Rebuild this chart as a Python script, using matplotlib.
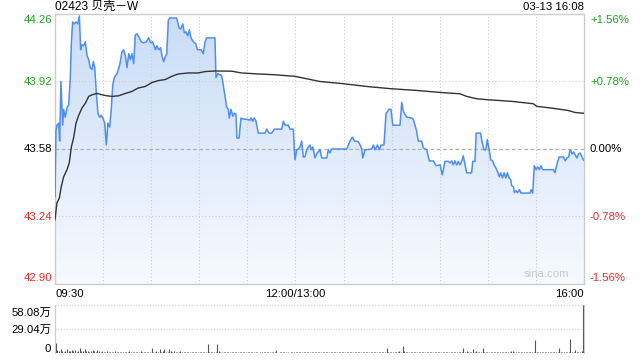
import numpy as np
import matplotlib
matplotlib.use("Agg")
import matplotlib.pyplot as plt
from matplotlib.colors import LinearSegmentedColormap

plt.rcParams['font.family'] = ['Liberation Sans', 'Noto Sans CJK SC', 'DejaVu Sans']

# ---------------- data ----------------
title = "02423 贝壳－W"
stamp = "03-13 16:08"
prev_close = 43.58
y_ticks = [44.26, 43.92, 43.58, 43.24, 42.90]
pct_ticks = ["+1.56%", "+0.78%", "0.00%", "-0.78%", "-1.56%"]
x_tick_minutes = [0, 150, 330]
x_tick_labels = ["09:30", "12:00/13:00", "16:00"]
vol_ticks = [58.08, 29.04, 0]
vol_tick_labels = ["58.08万", "29.04万", "0"]

price_min = [0, 0.6, 1.2, 2.3, 2.9, 3.7, 4.8, 5.4, 6.4, 7.5, 8.5, 9.5, 10.2, 11.0, 12.0, 13.1,
             14.2, 15.2, 16.0, 16.8, 17.9, 18.9, 20.0, 21.0, 22.0, 23.1, 23.9, 24.8, 25.8, 26.8,
             27.9, 28.9, 29.9, 31.0, 32.0, 33.0, 34.1, 35.1, 36.0, 37.0, 38.7, 40.4, 41.8, 42.8,
             43.9, 44.9, 46.0, 47.0, 48.0, 49.1, 50.1, 51.2, 52.6, 53.8, 55.3, 57.0, 58.4, 59.7,
             60.9, 62.6, 63.6, 64.7, 65.9, 66.7, 67.8, 68.6, 69.7, 70.7, 71.7, 75.9, 77.4, 78.4,
             79.7, 80.7, 81.7, 82.8, 83.8, 84.8, 86.3, 87.8, 88.8, 91.1, 92.5, 93.6, 94.6, 99.8,
             100.4, 101.5, 102.5, 104.0, 105.0, 106.1, 107.1, 108.1, 108.7, 109.8, 110.9, 111.9,
             112.9, 113.5, 114.8, 116.0, 117.5, 119.6, 121.6, 122.3, 123.3, 124.3, 125.4, 126.8,
             131.0, 132.1, 133.5, 135.2, 136.8, 141.4, 142.4, 143.5, 145.5, 146.6, 148.7, 149.3,
             149.7, 150.8, 151.8, 152.8, 153.9, 154.9, 155.9, 157.0, 158.0, 159.1, 159.7, 160.8,
             162.2, 163.2, 165.3, 166.4, 169.5, 170.5, 171.5, 172.6, 182.0, 183.0, 184.0, 185.5,
             186.8, 189.2, 190.3, 191.3, 192.0, 193.4, 197.6, 198.6, 199.7, 201.1, 202.3, 203.4,
             205.2, 206.5, 207.5, 208.4, 209.6, 210.7, 215.2, 216.3, 217.3, 218.3, 219.4, 222.5,
             223.5, 225.6, 226.6, 228.7, 229.8, 231.9, 233.5, 236.0, 237.7, 240.2, 241.6, 243.3,
             245.3, 246.4, 247.5, 248.5, 249.5, 250.6, 251.6, 252.6, 253.7, 254.7, 255.8, 256.8,
             259.9, 260.6, 262.0, 262.7, 265.5, 266.2, 267.6, 268.7, 269.7, 270.8, 271.8, 272.9,
             273.9, 275.0, 276.0, 277.2, 278.1, 279.1, 280.2, 281.2, 282.2, 283.3, 284.3, 284.9,
             286.0, 286.6, 287.6, 288.6, 289.7, 290.7, 296.3, 297.0, 298.0, 299.0, 300.1, 301.1,
             302.2, 303.2, 304.2, 310.9, 311.9, 313.0, 314.5, 317.2, 318.3, 319.3, 320.4, 321.4,
             322.5, 323.5, 324.5, 325.6, 326.6, 327.6, 328.7, 329.8]
price_val = [43.34, 43.67, 43.70, 43.71, 43.62, 43.92, 43.70, 43.78, 43.74, 43.79, 43.80, 43.93,
             44.115, 44.22, 44.21, 44.22, 44.21, 44.25, 44.08, 44.105, 44.10, 44.12, 44.05, 44.03,
             43.99, 43.98, 44.02, 43.99, 43.86, 43.76, 43.74, 43.75, 43.736, 43.71, 43.60, 43.71,
             43.69, 43.78, 43.90, 43.94, 43.96, 44.005, 44.07, 44.08, 44.05, 43.99, 44.06, 44.03,
             44.06, 44.01, 44.155, 44.16, 44.14, 44.12, 44.115, 44.12, 44.14, 44.115, 44.12, 44.08,
             44.10, 44.08, 44.09, 44.05, 44.02, 44.04, 44.06, 44.23, 44.24, 44.24, 44.19, 44.185,
             44.21, 44.165, 44.17, 44.15, 44.18, 44.14, 44.12, 44.11, 44.08, 44.08, 44.06, 44.12,
             44.14, 44.14, 43.94, 43.96, 43.955, 43.95, 43.90, 43.845, 43.79, 43.78, 43.736, 43.78,
             43.745, 43.76, 43.755, 43.635, 43.635, 43.736, 43.73, 43.73, 43.725, 43.736, 43.72,
             43.736, 43.72, 43.66, 43.66, 43.68, 43.66, 43.66, 43.68, 43.68, 43.72, 43.70, 43.70,
             43.68, 43.68, 43.576, 43.526, 43.576, 43.58, 43.59, 43.62, 43.54, 43.54, 43.576, 43.59,
             43.60, 43.576, 43.59, 43.535, 43.555, 43.576, 43.535, 43.535, 43.576, 43.56, 43.58,
             43.58, 43.60, 43.62, 43.64, 43.62, 43.617, 43.60, 43.58, 43.535, 43.576, 43.58, 43.60,
             43.576, 43.60, 43.576, 43.60, 43.60, 43.76, 43.77, 43.78, 43.78, 43.70, 43.70, 43.815,
             43.77, 43.756, 43.74, 43.736, 43.73, 43.67, 43.62, 43.62, 43.585, 43.576, 43.52, 43.52,
             43.496, 43.50, 43.45, 43.518, 43.518, 43.51, 43.52, 43.50, 43.52, 43.50, 43.518, 43.50,
             43.518, 43.546, 43.50, 43.46, 43.46, 43.518, 43.518, 43.66, 43.66, 43.625, 43.576,
             43.576, 43.627, 43.576, 43.526, 43.52, 43.50, 43.485, 43.467, 43.44, 43.46, 43.434,
             43.46, 43.434, 43.46, 43.434, 43.425, 43.395, 43.39, 43.36, 43.37, 43.36, 43.375,
             43.358, 43.358, 43.375, 43.358, 43.496, 43.476, 43.49, 43.476, 43.496, 43.476, 43.476,
             43.46, 43.50, 43.54, 43.54, 43.52, 43.535, 43.54, 43.576, 43.555, 43.565, 43.55,
             43.535, 43.555, 43.56, 43.54, 43.523]

avg_min = [0, 1.2, 2.7, 3.9, 5.4, 7.5, 8.9, 10.2, 11.7, 13.1, 14.8, 16.8, 18.9, 21.0, 23.1, 26.2,
           29.3, 32.4, 35.6, 39.7, 43.9, 48.0, 51.8, 56.3, 60.5, 64.7, 68.8, 72.8, 76.9, 83.2,
           89.4, 93.6, 99.8, 110.2, 116.4, 126.8, 137.2, 149.7, 165.3, 179.8, 194.4, 209.0,
           225.6, 240.2, 252.6, 256.8, 263.1, 270.3, 284.9, 298.4, 300.5, 309.8, 320.2, 324.4,
           329.6]
avg_val = [43.224, 43.308, 43.333, 43.39, 43.44, 43.476, 43.51, 43.59, 43.64, 43.71, 43.75,
           43.786, 43.81, 43.845, 43.853, 43.86, 43.853, 43.848, 43.845, 43.848, 43.86, 43.87,
           43.887, 43.895, 43.915, 43.925, 43.93, 43.946, 43.958, 43.963, 43.963, 43.97, 43.973,
           43.972, 43.963, 43.958, 43.954, 43.946, 43.92, 43.909, 43.895, 43.884, 43.875, 43.865,
           43.858, 43.845, 43.833, 43.828, 43.82, 43.808, 43.795, 43.786, 43.774, 43.764, 43.76]

# volume per minute, in 万
volume = [12.0, 3.5, 2.0, 4.5, 3.0, 1.5, 2.5, 5.0, 2.0, 3.0,
          4.0, 2.5, 3.5, 1.8, 2.2, 5.5, 3.0, 2.0, 4.8, 2.5,
          3.0, 1.5, 2.8, 4.2, 2.0, 1.6, 3.5, 2.2, 1.4, 2.0,
          1.2, 1.8, 2.5, 1.0, 1.5, 0.8, 1.2, 2.0, 1.0, 0.9,
          1.5, 1.1, 0.8, 1.3, 1.8, 1.0, 2.2, 1.2, 0.9, 1.4,
          1.6, 1.0, 1.3, 2.0, 0.8, 1.2, 1.0, 1.8, 1.1, 0.9,
          5.5, 1.2, 1.0, 2.5, 1.8, 4.5, 1.2, 2.0, 4.8, 1.5,
          1.8, 4.8, 2.2, 1.5, 2.8, 1.0, 1.6, 1.2, 2.0, 0.9,
          1.4, 1.0, 0.8, 1.6, 1.1, 0.7, 1.3, 0.9, 1.2, 0.8,
          1.0, 1.5, 0.7, 1.1, 0.8, 11.0, 0.9, 1.0, 0.7, 1.3,
          1.0, 10.5, 2.0, 1.2, 0.9, 1.4, 0.8, 1.6, 1.0, 0.7,
          1.2, 0.8, 1.5, 0.9, 0.7, 1.1, 0.8, 1.3, 0.9, 0.7,
          1.0, 0.8, 1.2, 0.7, 0.9, 1.1, 0.8, 0.6, 1.0, 0.8,
          0.9, 0.7, 1.1, 0.8, 1.5, 0.9, 0.7, 1.0, 3.5, 0.6,
          0.8, 1.0, 0.7, 0.9, 1.2, 0.8, 0.6, 1.0, 0.8, 1.5,
          1.2, 0.9, 1.0, 0.7, 1.3, 0.8, 1.1, 0.9, 0.7, 1.0,
          0.8, 1.2, 0.7, 0.9, 1.0, 0.8, 1.4, 0.7, 0.9, 1.1,
          0.8, 1.0, 0.7, 1.2, 0.9, 0.8, 1.0, 0.7, 1.1, 0.8,
          0.9, 1.3, 0.8, 1.0, 0.7, 1.2, 0.9, 0.8, 1.0, 0.7,
          1.1, 0.8, 0.9, 1.0, 0.7, 1.2, 0.8, 0.9, 1.0, 1.0,
          0.8, 1.1, 0.9, 1.3, 0.8, 1.5, 1.0, 6.0, 1.2, 0.9,
          1.2, 0.8, 1.0, 1.4, 0.9, 2.0, 1.3, 8.0, 3.0, 1.5,
          1.0, 1.8, 0.8, 1.2, 1.0, 0.9, 1.3, 0.8, 1.1, 0.7,
          1.0, 0.8, 1.2, 0.9, 0.7, 1.0, 0.8, 1.1, 0.9, 1.3,
          0.8, 1.0, 0.7, 1.2, 0.9, 0.8, 1.0, 1.4, 0.8, 0.9,
          1.1, 0.8, 1.0, 1.5, 0.9, 6.0, 1.2, 2.5, 0.9, 1.0,
          1.3, 5.0, 1.0, 2.0, 0.8, 1.2, 1.0, 6.5, 1.5, 0.9,
          1.2, 0.8, 1.0, 0.9, 1.1, 0.8, 1.0, 0.7, 1.2, 0.9,
          0.8, 1.0, 0.9, 1.1, 0.8, 2.5, 2.0, 1.0, 0.8, 1.2,
          0.9, 1.0, 0.8, 1.1, 0.7, 1.0, 0.9, 1.2, 0.8, 1.0,
          16.0, 1.2, 0.9, 1.0, 1.4, 0.8, 1.1, 0.9, 1.3, 1.0,
          0.8, 1.2, 1.0, 0.9, 1.5, 6.0, 1.0, 1.2, 0.9, 1.3,
          1.0, 1.5, 17.5, 1.2, 1.0, 4.2, 1.3, 0.9, 1.6, 2.0,
          58.08]

# ---------------- style ----------------
W, H = 640, 360
GREEN = '#1fa61f'
RED = '#ee2b2b'
BLUE = '#4f8ef0'
GRID = '#cccccc'
FS = 8.2

def fx(px):
    return px / W

def fy(py):
    return 1 - py / H

fig = plt.figure(figsize=(6.4, 3.6), dpi=100)
fig.patch.set_facecolor('white')

# price axes
L, R = 55, 584
ax = fig.add_axes([fx(L), fy(284), fx(R) - fx(L), fy(14) - fy(284)])
ax.set_xlim(0, 330)
ax.set_ylim(y_ticks[-1], y_ticks[0])
ax.set_xticks([])
ax.set_yticks([])
for s in ax.spines.values():
    s.set_color(GRID)
    s.set_linewidth(1.0)

for t in range(30, 330, 30):
    ax.axvline(t, color=GRID, lw=0.8, ls=(0, (1, 2)), zorder=1)
for v in y_ticks[1:-1]:
    if v == prev_close:
        ax.axhline(v, color='#b0b0b0', lw=0.9, ls=(0, (3, 2)), zorder=1)
    else:
        ax.axhline(v, color=GRID, lw=0.8, ls=(0, (1, 2)), zorder=1)

# gradient fill under the price line
poly = ax.fill_between(price_min, price_val, y_ticks[-1], color='none', lw=0)
cmap = LinearSegmentedColormap.from_list('g', ['#f7faff', '#c9dcf7'])
grad = np.linspace(0, 1, 256).reshape(-1, 1)
im = ax.imshow(grad, extent=[0, 330, y_ticks[-1], y_ticks[0]], origin='lower',
               aspect='auto', cmap=cmap, zorder=0.5)
path = poly.get_paths()[0]
im.set_clip_path(path, transform=ax.transData)

ax.plot(price_min, price_val, color=BLUE, lw=1.1, zorder=3)
ax.plot(avg_min, avg_val, color='#333333', lw=1.0, zorder=3)

ax.text(0.93, 0.02, 'sina.com', transform=ax.transAxes, ha='center', va='bottom',
        color='#c8c8c8', fontsize=FS)

# left / right labels
label_y = [20, 82, 149, 217, 278]
colors = [GREEN, GREEN, 'black', RED, RED]
for v, pc, yy, c in zip(y_ticks, pct_ticks, label_y, colors):
    fig.text(fx(52), fy(yy), f"{v:.2f}", ha='right', va='center', color=c, fontsize=FS)
    fig.text(fx(590), fy(yy), pc, ha='left', va='center', color=c, fontsize=FS)

# x labels
x_aligns = ['left', 'center', 'right']
for m, lab, al in zip(x_tick_minutes, x_tick_labels, x_aligns):
    px = L + (R - L) * m / 330
    fig.text(fx(px), fy(294), lab, ha=al, va='center', color='black', fontsize=FS)

fig.text(fx(55), fy(7), title, ha='left', va='center', color='black', fontsize=8.6)
fig.text(fx(584), fy(7), stamp, ha='right', va='center', color='black', fontsize=FS)

# volume axes
axv = fig.add_axes([fx(L), fy(353), fx(R) - fx(L), fy(305) - fy(353)])
axv.set_xlim(-0.5, 330.5)
axv.set_ylim(0, vol_ticks[0])
axv.set_xticks([])
axv.set_yticks([])
for k in ['top', 'bottom']:
    axv.spines[k].set_visible(False)
for k in ['left', 'right']:
    axv.spines[k].set_color(GRID)
axv.axhline(vol_ticks[0], color=GRID, lw=0.8, ls=(0, (1, 1.5)))
axv.axhline(vol_ticks[1], color=GRID, lw=0.8, ls=(0, (1, 1.5)))
axv.vlines(np.arange(len(volume)), 0, volume, color='#555555', lw=0.8)

for lab, yy in zip(vol_tick_labels, [313, 330, 349]):
    fig.text(fx(51), fy(yy), lab, ha='right', va='center', color='black', fontsize=FS)

fig.savefig('out.png', dpi=100)
